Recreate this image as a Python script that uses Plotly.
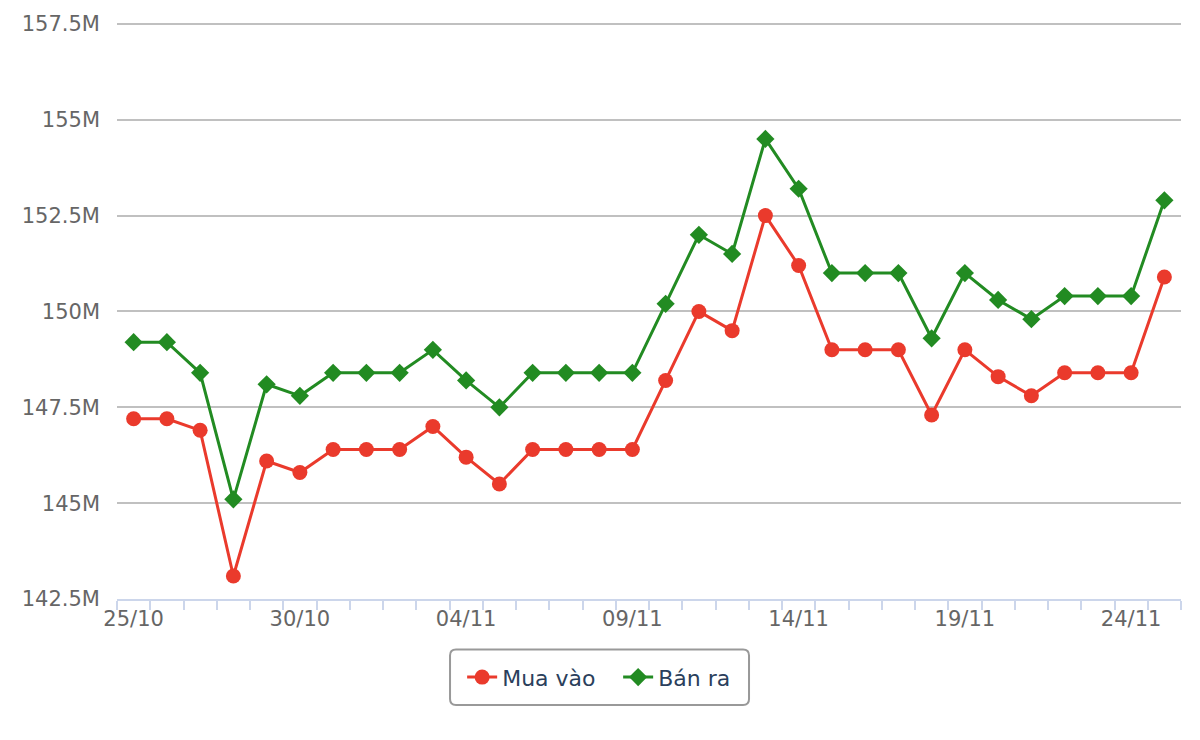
import plotly.graph_objects as go

dates = ["25/10", "26/10", "27/10", "28/10", "29/10", "30/10", "31/10",
         "01/11", "02/11", "03/11", "04/11", "05/11", "06/11", "07/11", "08/11",
         "09/11", "10/11", "11/11", "12/11", "13/11", "14/11", "15/11", "16/11",
         "17/11", "18/11", "19/11", "20/11", "21/11", "22/11", "23/11", "24/11", "25/11"]

mua_vao = [147.2, 147.2, 146.9, 143.1, 146.1, 145.8, 146.4, 146.4, 146.4, 147.0,
           146.2, 145.5, 146.4, 146.4, 146.4, 146.4, 148.2, 150.0, 149.5, 152.5,
           151.2, 149.0, 149.0, 149.0, 147.3, 149.0, 148.3, 147.8, 148.4, 148.4,
           148.4, 150.9]

ban_ra = [149.2, 149.2, 148.4, 145.1, 148.1, 147.8, 148.4, 148.4, 148.4, 149.0,
          148.2, 147.5, 148.4, 148.4, 148.4, 148.4, 150.2, 152.0, 151.5, 154.5,
          153.2, 151.0, 151.0, 151.0, 149.3, 151.0, 150.3, 149.8, 150.4, 150.4,
          150.4, 152.9]

y_ticks = [142.5, 145, 147.5, 150, 152.5, 155, 157.5]

x = list(range(len(dates)))
label_idx = [i for i in x if i % 5 == 0]

fig = go.Figure()
fig.add_trace(go.Scatter(
    x=x, y=[v * 1e6 for v in mua_vao], name="Mua vào", mode="lines+markers",
    line=dict(color="#ea3a2c", width=3),
    marker=dict(symbol="circle", size=15, color="#ea3a2c"),
))
fig.add_trace(go.Scatter(
    x=x, y=[v * 1e6 for v in ban_ra], name="Bán ra", mode="lines+markers",
    line=dict(color="#228b22", width=3),
    marker=dict(symbol="diamond", size=14, color="#228b22"),
))

# legend frame (rounded), in paper coordinates
x0, x1, y0, y1 = 0.313, 0.594, -0.1838, -0.0876
rx, ry = 0.0056, 0.0103
frame = (f"M {x0+rx},{y1} L {x1-rx},{y1} Q {x1},{y1} {x1},{y1-ry} "
         f"L {x1},{y0+ry} Q {x1},{y0} {x1-rx},{y0} L {x0+rx},{y0} "
         f"Q {x0},{y0} {x0},{y0+ry} L {x0},{y1-ry} Q {x0},{y1} {x0+rx},{y1} Z")

fig.update_layout(
    width=1200, height=740,
    margin=dict(l=117, r=19, t=17, b=141),
    paper_bgcolor="white", plot_bgcolor="white",
    font=dict(family="DejaVu Sans", color="#666666"),
    showlegend=True,
    legend=dict(
        orientation="h", x=0.471, xanchor="center", y=-0.1357, yanchor="middle",
        borderwidth=0, bgcolor="rgba(0,0,0,0)",
        entrywidth=111, entrywidthmode="pixels",
        font=dict(size=22, color="#2b3f5c", family="DejaVu Sans"),
    ),
    shapes=[dict(type="path", xref="paper", yref="paper", path=frame,
                 line=dict(color="#999999", width=2), fillcolor="rgba(0,0,0,0)",
                 layer="below")],
    xaxis=dict(
        range=[-0.5, len(dates) - 0.5],
        tickmode="array", tickvals=label_idx, ticktext=[dates[i] for i in label_idx],
        ticks="", showgrid=False, zeroline=False,
        showline=True, linecolor="#ccd6eb", linewidth=2,
        tickfont=dict(size=21, color="#666666"),
        minor=dict(tick0=-0.5, dtick=1, ticks="outside", ticklen=9,
                   tickcolor="#ccd6eb", tickwidth=2, showgrid=False),
    ),
    yaxis=dict(
        range=[142.5e6, 157.55e6],
        tickmode="array", tickvals=[v * 1e6 for v in y_ticks],
        tickformat="~s",
        showgrid=True, gridcolor="#c0c0c0", gridwidth=1.5,
        zeroline=False, showline=False, ticks="",
        ticklabelstandoff=16,
        tickfont=dict(size=21, color="#666666"),
    ),
)

fig.write_html("out.html")
